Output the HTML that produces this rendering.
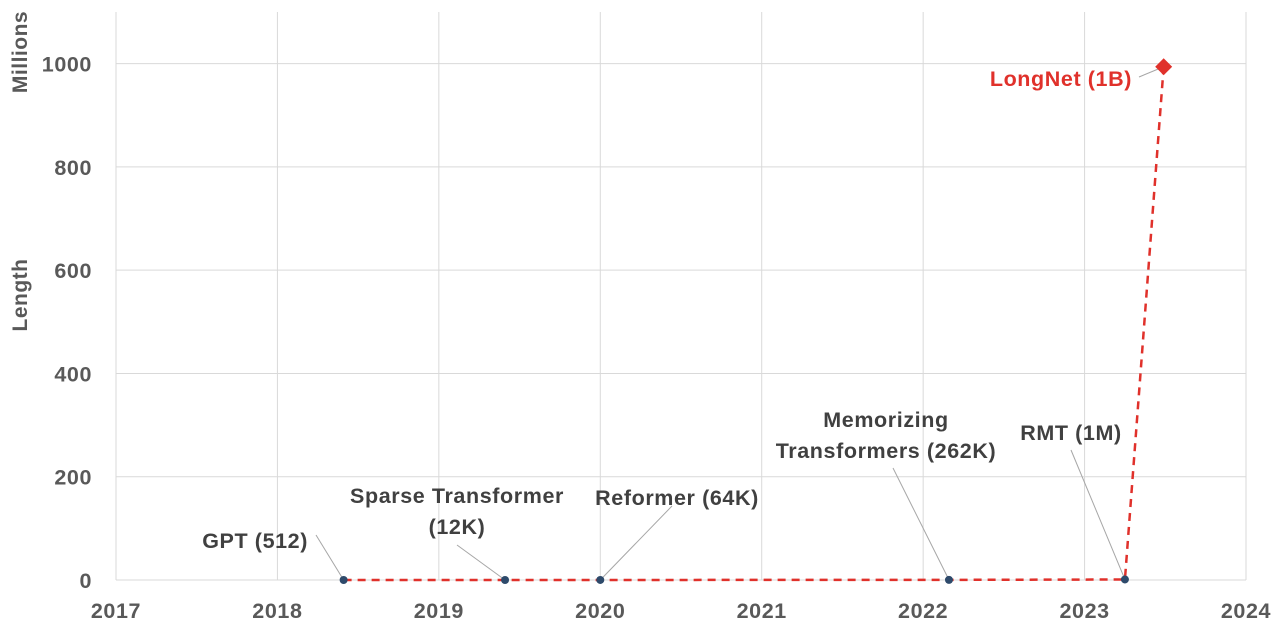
<!DOCTYPE html>
<html><head><meta charset="utf-8"><style>
html,body{margin:0;padding:0;background:#fff;}
svg{display:block;font-family:"Liberation Sans",sans-serif;font-weight:bold;}
</style></head><body>
<svg id="chart" width="1284" height="636" viewBox="0 0 1284 636"></svg>
<script>
const models = ["GPT (512)","Sparse Transformer (12K)","Reformer (64K)","Memorizing Transformers (262K)","RMT (1M)","LongNet (1B)"];
const years = [2018.41, 2019.41, 2020.0, 2022.16, 2023.25, 2023.49];
const lengthsMillions = [0.000512, 0.012, 0.064, 0.262, 1, 994];
const xTicks = [2017,2018,2019,2020,2021,2022,2023,2024];
const yTicks = [0,200,400,600,800,1000];

const NS="http://www.w3.org/2000/svg";
const svg=document.getElementById('chart');
const X0=116,X1=1246,Y0=580,Ytop=12;
const xs=v=>X0+(v-2017)/(2024-2017)*(X1-X0);
const ys=v=>Y0-v/1100*(Y0-Ytop);
function mk(tag,attrs,parent){const e=document.createElementNS(NS,tag);for(const k in attrs)e.setAttribute(k,attrs[k]);(parent||svg).appendChild(e);return e;}

yTicks.forEach(t=>{
  const l=mk('line',{x1:X0,x2:X1,y1:ys(t),y2:ys(t),stroke:'#d9d9d9','stroke-width':1});
  
  
  const tx=mk('text',{x:92,y:ys(t)+8,'text-anchor':'end','font-size':21.5,fill:'#595959','letter-spacing':0.6});
  tx.textContent=t;
  
  
});
xTicks.forEach(t=>{
  const l=mk('line',{x1:xs(t),x2:xs(t),y1:Ytop,y2:Y0,stroke:'#d9d9d9','stroke-width':1});
  
  
  const tx=mk('text',{x:xs(t),y:618,'text-anchor':'middle','font-size':21.5,fill:'#595959','letter-spacing':0.6});
  tx.textContent=t;
  
  
});
const t1=mk('text',{x:0,y:0,transform:'translate(27,295) rotate(-90)','text-anchor':'middle','font-size':21,fill:'#595959','letter-spacing':0.5});
t1.textContent='Length';


const t2=mk('text',{x:0,y:0,transform:'translate(27,52) rotate(-90)','text-anchor':'middle','font-size':21,fill:'#595959','letter-spacing':0.5});
t2.textContent='Millions';



const labelSpecs=[
 {lines:["GPT (512)"],x:308,y:548,anchor:'end',lead:[316,535]},
 {lines:["Sparse Transformer","(12K)"],x:457,y:503,anchor:'middle',lead:[457,545]},
 {lines:["Reformer (64K)"],x:677,y:505,anchor:'middle',lead:[672,506]},
 {lines:["Memorizing","Transformers (262K)"],x:886,y:427,anchor:'middle',lead:[893,468]},
 {lines:["RMT (1M)"],x:1071,y:440,anchor:'middle',lead:[1071,450]},
 {lines:["LongNet (1B)"],x:1132,y:86,anchor:'end',lead:[1139,77]}
];
const pts=years.map((y,i)=>xs(y)+','+ys(lengthsMillions[i])).join(' ');
const pl=mk('polyline',{points:pts,fill:'none',stroke:'#e0312b','stroke-width':2.5,'stroke-dasharray':'8,6'});



years.forEach((y,i)=>{
  const px=xs(y),py=ys(lengthsMillions[i]);
  const s=labelSpecs[i];
  const isLast=i===years.length-1;
  const ld=mk('line',{x1:s.lead[0],y1:s.lead[1],x2:px,y2:py,stroke:'#a6a6a6','stroke-width':1});
  
  
  let m;
  if(isLast){
    m=mk('rect',{x:px-6,y:py-6,width:12,height:12,fill:'#e0312b',transform:`rotate(45 ${px} ${py})`});
  } else {
    m=mk('circle',{cx:px,cy:py,r:4,fill:'#2e4a6b'});
  }
  
  
  const tx=mk('text',{x:s.x,y:s.y,'text-anchor':s.anchor,'font-size':21.5,fill:isLast?'#e0312b':'#404040','letter-spacing':0.6});
  
  
  s.lines.forEach((ln,j)=>{const ts=mk('tspan',{x:s.x,dy:j?31:0},tx);ts.textContent=ln;});
});
</script>
</body></html>
